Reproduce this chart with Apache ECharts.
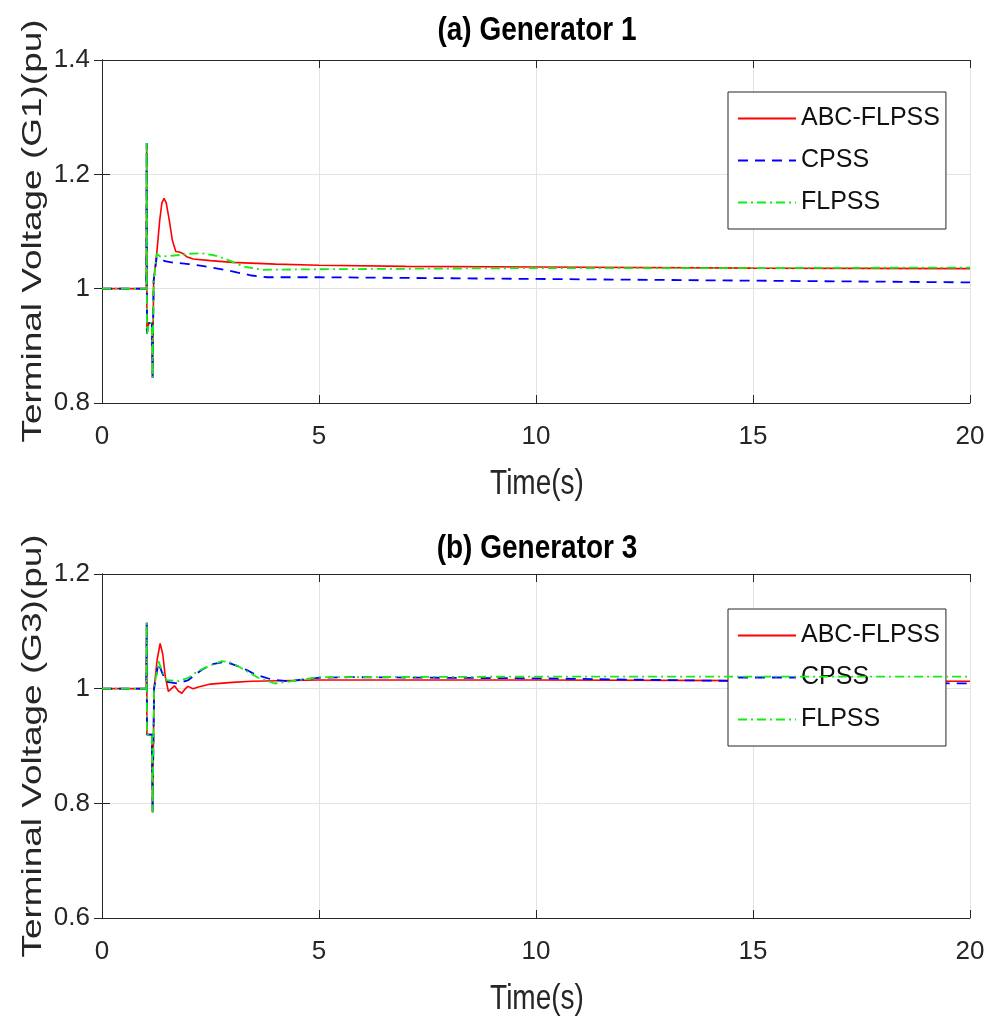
<!DOCTYPE html>
<html>
<head>
<meta charset="utf-8">
<script src="https://cdn.jsdelivr.net/npm/echarts@6/dist/echarts.min.js"></script>
<style>
html,body{margin:0;padding:0;background:#fff;}
#main{width:988px;height:1027px;}
</style>
</head>
<body>
<div id="main"></div>
<script>
// ---------- Data (time s, voltage pu) ----------
const seriesNames = ['ABC-FLPSS', 'CPSS', 'FLPSS'];
const xTicks = [0, 5, 10, 15, 20];
const g1YTicks = [0.8, 1.0, 1.2, 1.4];
const g3YTicks = [0.6, 0.8, 1.0, 1.2];

// shared fault transient, Generator 1
const g1Fault = [[0, 1.0], [1.02, 1.0], [1.03, 1.255], [1.035, 0.921], [1.08, 0.94], [1.15, 0.94], [1.165, 0.844], [1.19, 1.014]];
const g1Abc = [[1.26, 1.06], [1.33, 1.12], [1.38, 1.15], [1.43, 1.158], [1.48, 1.15], [1.55, 1.12], [1.62, 1.085], [1.70, 1.065], [1.78, 1.064], [1.85, 1.062], [1.95, 1.056], [2.1, 1.052], [2.5, 1.049], [3, 1.046], [4, 1.043], [5, 1.041], [7, 1.039], [10, 1.038], [15, 1.036], [20, 1.035]];
const g1Cpss = [[1.26, 1.055], [1.34, 1.053], [1.45, 1.048], [1.6, 1.046], [2.0, 1.043], [2.3, 1.040], [2.6, 1.036], [2.9, 1.032], [3.2, 1.027], [3.45, 1.023], [3.8, 1.020], [5, 1.020], [10, 1.017], [15, 1.014], [20, 1.011]];
const g1Flpss = [[1.26, 1.061], [1.35, 1.056], [1.5, 1.057], [1.8, 1.059], [2.0, 1.061], [2.3, 1.062], [2.6, 1.058], [2.85, 1.052], [3.1, 1.044], [3.3, 1.038], [3.7, 1.033], [5, 1.034], [10, 1.036], [15, 1.036], [20, 1.037]];

// shared fault transient, Generator 3
const g3Fault = [[0, 1.0], [1.02, 1.0], [1.03, 1.115], [1.035, 0.92], [1.15, 0.92], [1.165, 0.784], [1.2, 1.0]];
const g3Abc = [[1.27, 1.05], [1.34, 1.079], [1.4, 1.06], [1.46, 1.02], [1.53, 0.995], [1.6, 1.0], [1.67, 1.005], [1.76, 0.996], [1.84, 0.992], [1.92, 1.0], [1.98, 1.004], [2.1, 1.0], [2.22, 1.003], [2.5, 1.008], [3, 1.011], [3.45, 1.013], [5, 1.015], [10, 1.015], [15, 1.014], [20, 1.013]];
const g3Cpss = [[1.3, 1.045], [1.4, 1.025], [1.49, 1.012], [1.76, 1.009], [1.99, 1.015], [2.3, 1.033], [2.55, 1.043], [2.76, 1.046], [2.95, 1.044], [3.14, 1.039], [3.35, 1.032], [3.52, 1.025], [3.91, 1.016], [4.3, 1.013], [4.98, 1.019], [5.75, 1.020], [10, 1.018], [15, 1.013], [20, 1.009]];
const g3Flpss = [[1.3, 1.048], [1.4, 1.028], [1.49, 1.015], [1.76, 1.013], [1.99, 1.019], [2.2, 1.03], [2.45, 1.039], [2.76, 1.048], [2.95, 1.046], [3.14, 1.039], [3.35, 1.03], [3.6, 1.019], [3.98, 1.009], [4.37, 1.013], [4.98, 1.020], [10, 1.021], [15, 1.021], [20, 1.021]];

const titles = ['(a) Generator 1', '(b) Generator 3'];
const yNames = ['Terminal Voltage (G1)(pu)', 'Terminal Voltage (G3)(pu)'];
const xName = 'Time(s)';

// ---------- Chart ----------
const chart = echarts.init(document.getElementById('main'), null, {renderer: 'canvas'});
const SANS = '"Liberation Sans", Arial, sans-serif';
const AX = '#262626';
const GRIDC = '#e3e3e3';

const grids = [
  {left: 102, top: 60, width: 868, height: 343},
  {left: 102, top: 574, width: 868, height: 344}
];

function xAxes(gi) {
  return [
    {gridIndex: gi, type: 'value', min: xTicks[0], max: xTicks[xTicks.length - 1], interval: 5, position: 'bottom',
     axisLine: {lineStyle: {color: AX, width: 1}}, axisTick: {inside: true, length: 8, lineStyle: {color: AX}},
     axisLabel: {color: AX, fontSize: 26, fontFamily: SANS, margin: 21},
     splitLine: {show: true, lineStyle: {color: GRIDC, width: 1}}},
    {gridIndex: gi, type: 'value', min: xTicks[0], max: xTicks[xTicks.length - 1], interval: 5, position: 'top',
     axisLine: {show: true, lineStyle: {color: AX, width: 1}}, axisTick: {show: true, inside: true, length: 8, lineStyle: {color: AX}},
     axisLabel: {show: false}, splitLine: {show: false}}
  ];
}
function yAxes(gi, ticks) {
  const mn = ticks[0], mx = ticks[ticks.length - 1];
  return [
    {gridIndex: gi, type: 'value', min: mn, max: mx, interval: 0.2, position: 'left',
     axisLine: {show: true, lineStyle: {color: AX, width: 1}}, axisTick: {show: true, inside: true, length: 8, lineStyle: {color: AX}},
     axisLabel: {color: AX, fontSize: 26, fontFamily: SANS, margin: 12,
       formatter: v => String(Math.round(v * 10) / 10)},
     splitLine: {show: true, lineStyle: {color: GRIDC, width: 1}}},
    {gridIndex: gi, type: 'value', min: mn, max: mx, interval: 0.2, position: 'right',
     axisLine: {show: true, lineStyle: {color: AX, width: 1}}, axisTick: {show: true, inside: true, length: 8, lineStyle: {color: AX}},
     axisLabel: {show: false}, splitLine: {show: false}}
  ];
}

const styles = [
  {color: '#ff0000', width: 1.6, type: 'solid'},
  {color: '#0000ff', width: 1.8, type: [10, 7]},
  {color: '#11ee11', width: 1.8, type: [9, 4, 2, 4]}
];

function mk(name, data, gi, si) {
  return {
    name: name, type: 'line', xAxisIndex: gi * 2, yAxisIndex: gi * 2,
    data: data, symbol: 'none', smooth: false, animation: false,
    lineStyle: {color: styles[si].color, width: styles[si].width, type: styles[si].type},
    itemStyle: {color: styles[si].color}, z: 2 + si
  };
}

const series = [
  mk(seriesNames[0], g1Fault.concat(g1Abc), 0, 0),
  mk(seriesNames[1], g1Fault.concat(g1Cpss), 0, 1),
  mk(seriesNames[2], g1Fault.concat(g1Flpss), 0, 2),
  mk(seriesNames[0], g3Fault.concat(g3Abc), 1, 0),
  mk(seriesNames[1], g3Fault.concat(g3Cpss), 1, 1),
  mk(seriesNames[2], g3Fault.concat(g3Flpss), 1, 2)
];

function legendAt(top) {
  return {
    orient: 'vertical', left: 728, top: top, data: seriesNames,
    itemWidth: 58, itemHeight: 14, itemGap: 17,
    padding: [14, 6, 14, 9],
    borderColor: AX, borderWidth: 1, backgroundColor: '#fff',
    itemStyle: {opacity: 0},
    textStyle: {color: '#111', fontSize: 25, fontFamily: SANS, lineHeight: 25},
    selectedMode: false
  };
}

function txt(t, x, y, font, fill, el) {
  return Object.assign({
    type: 'text', x: x, y: y, z: 100,
    style: {text: t, font: font, fill: fill, align: 'center', verticalAlign: 'middle'}
  }, el || {});
}

const graphic = [
  txt(titles[0], 537, 31, 'bold 28px ' + SANS, '#000', {scaleY: 1.2}),
  txt(titles[1], 537, 549, 'bold 28px ' + SANS, '#000', {scaleY: 1.2}),
  txt(xName, 537, 484, '28px ' + SANS, AX, {scaleY: 1.25}),
  txt(xName, 537, 999, '28px ' + SANS, AX, {scaleY: 1.25}),
  txt(yNames[0], 33, 231, '28px ' + SANS, AX, {rotation: Math.PI / 2, scaleX: 1.32}),
  txt(yNames[1], 33, 746, '28px ' + SANS, AX, {rotation: Math.PI / 2, scaleX: 1.32})
];

chart.setOption({
  animation: false,
  backgroundColor: '#fff',
  grid: grids,
  xAxis: xAxes(0).concat(xAxes(1)),
  yAxis: yAxes(0, g1YTicks).concat(yAxes(1, g3YTicks)),
  legend: [legendAt(92), legendAt(609)],
  series: series,
  graphic: graphic
});
</script>
</body>
</html>
